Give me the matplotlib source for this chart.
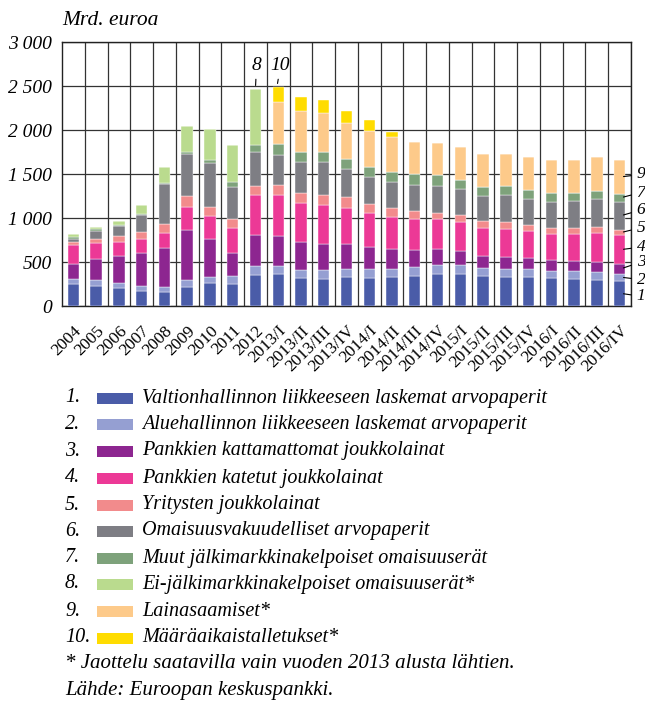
import numpy as np
import matplotlib
matplotlib.use("Agg")
from matplotlib import pyplot as plt
from matplotlib.patches import Rectangle

plt.rcParams['font.family'] = ['Liberation Serif', 'DejaVu Serif']

categories = ['2004', '2005', '2006', '2007', '2008', '2009', '2010', '2011', '2012',
              '2013/I', '2013/II', '2013/III', '2013/IV',
              '2014/I', '2014/II', '2014/III', '2014/IV',
              '2015/I', '2015/II', '2015/III', '2015/IV',
              '2016/I', '2016/II', '2016/III', '2016/IV']

# Mrd. euroa, per component
valtio = [254, 231, 209, 174, 156, 220, 262, 254, 357, 360, 315, 311, 330,
          322, 326, 341, 368, 368, 341, 334, 334, 319, 311, 300, 288]
alue = [57, 69, 57, 57, 60, 76, 68, 84, 102, 91, 95, 99, 95,
        95, 95, 99, 102, 98, 91, 91, 83, 83, 83, 87, 80]
kattamattomat = [167, 231, 299, 368, 448, 565, 436, 269, 353, 342, 314, 299, 284,
                 258, 231, 197, 182, 163, 141, 136, 129, 118, 114, 117, 110]
katetut = [216, 182, 167, 167, 170, 269, 262, 284, 451, 474, 448, 436, 402,
           383, 360, 353, 334, 323, 318, 315, 311, 303, 315, 326, 326]
yritys = [30, 49, 65, 76, 99, 118, 99, 99, 99, 110, 118, 118, 125,
          106, 103, 91, 76, 79, 72, 76, 68, 64, 64, 65, 61]
omaisuusvak = [42, 91, 110, 193, 455, 478, 496, 360, 383, 337, 345, 372, 322,
               307, 299, 299, 307, 300, 292, 311, 296, 300, 311, 326, 322]
muut = [23, 19, 18, 8, 8, 19, 31, 57, 83, 129, 121, 121, 114,
        114, 114, 122, 121, 102, 103, 102, 99, 102, 91, 91, 87]
ei_jalki = [30, 31, 38, 106, 189, 296, 360, 421, 637, 0, 0, 0, 0,
            0, 0, 0, 0, 0, 0, 0, 0, 0, 0, 0, 0]
lainat = [0, 0, 0, 0, 0, 0, 0, 0, 0, 478, 463, 433, 406,
          402, 391, 360, 364, 372, 375, 368, 371, 372, 372, 379, 387]
talletukset = [0, 0, 0, 0, 0, 0, 0, 0, 0, 167, 155, 147, 137,
               129, 64, 0, 0, 0, 0, 0, 0, 0, 0, 0, 0]

series = [valtio, alue, kattamattomat, katetut, yritys, omaisuusvak,
          muut, ei_jalki, lainat, talletukset]
names = ['Valtionhallinnon liikkeeseen laskemat arvopaperit',
         'Aluehallinnon liikkeeseen laskemat arvopaperit',
         'Pankkien kattamattomat joukkolainat',
         'Pankkien katetut joukkolainat',
         'Yritysten joukkolainat',
         'Omaisuusvakuudelliset arvopaperit',
         'Muut jälkimarkkinakelpoiset omaisuuserät',
         'Ei-jälkimarkkinakelpoiset omaisuuserät*',
         'Lainasaamiset*',
         'Määräaikaistalletukset*']
colors = ['#4a5ca8', '#959fd2', '#8d2690', '#ec3996', '#f28b8c',
          '#7e7e84', '#7ea27b', '#badb8e', '#fdca8a', '#ffdc00']

fig = plt.figure(figsize=(6.45, 7.04), dpi=100)
ax = fig.add_axes([0.0961, 0.5653, 0.8822, 0.375])

x = np.arange(len(categories))
bottom = np.zeros(len(categories))
for vals, col in zip(series, colors):
    vals = np.array(vals, dtype=float)
    ax.bar(x, vals, width=0.5, bottom=bottom, color=col, edgecolor='white',
           linewidth=0.3, zorder=3)
    bottom += vals

ax.set_xlim(-0.5, len(categories) - 0.5)
ax.set_ylim(0, 3000)
ax.set_yticks(np.arange(0, 3001, 500))
ax.set_yticklabels(['0', '500', '1 000', '1 500', '2 000', '2 500', '3 000'],
                   fontsize=14, style='italic')
ax.set_xticks(x)
ax.set_xticklabels(categories, rotation=45, ha='right', rotation_mode='anchor',
                   fontsize=12.5)
ax.set_xticks(x + 0.5, minor=True)
ax.tick_params(axis='both', which='both', length=0)
ax.tick_params(axis='x', pad=12)
ax.tick_params(axis='y', pad=7)
ax.grid(axis='y', color='#333333', linewidth=0.9, zorder=0)
ax.grid(axis='x', which='minor', color='#333333', linewidth=0.9, zorder=0)
ax.grid(axis='x', which='major', visible=False)
for s in ax.spines.values():
    s.set_linewidth(1.0)
    s.set_color('#222222')

fig.text(0.097, 0.971, 'Mrd. euroa', fontsize=15.5, style='italic', va='center')

# callouts for series 8 and 10
arrow = dict(arrowstyle='-', color='black', lw=0.8)
tops = bottom
ax.annotate('8', xy=(8, tops[8] + 10), xytext=(8.05, 2640), fontsize=14,
            style='italic', ha='center', va='bottom', arrowprops=arrow)
ax.annotate('10', xy=(8.95, tops[9] + 10), xytext=(9.1, 2640), fontsize=14,
            style='italic', ha='center', va='bottom', arrowprops=arrow)

# right-side labels for last bar
last = len(categories) - 1
cum = np.cumsum([s[last] for s in series])
starts = np.concatenate([[0], cum[:-1]])
label_y = {0: 110, 1: 300, 2: 500, 3: 670, 4: 890, 5: 1092, 6: 1290, 8: 1495}
for i, ly in label_y.items():
    mid = (starts[i] + cum[i]) / 2
    ax.annotate(str(i + 1), xy=(last + 0.05, mid), xytext=(last + 0.75, ly),
                fontsize=12.5, style='italic', ha='left', va='center',
                arrowprops=arrow, annotation_clip=False)

# legend
row_y = [398, 425, 451, 478, 505, 531, 558, 584, 611, 638]
W, H = 645.0, 704.0
for i, (name, col) in enumerate(zip(names, colors)):
    yy = 1 - row_y[i] / H
    fig.text(65 / W, yy, f'{i + 1}.', fontsize=14.5, style='italic', va='center')
    fig.patches.append(Rectangle((97 / W, yy - 5.5 / H), 36 / W, 11 / H,
                                 transform=fig.transFigure, facecolor=col,
                                 edgecolor='none'))
    fig.text(142 / W, yy, name, fontsize=14.5, style='italic', va='center')
fig.text(65 / W, 1 - 664 / H, '* Jaottelu saatavilla vain vuoden 2013 alusta lähtien.',
         fontsize=15, style='italic', va='center')
fig.text(65 / W, 1 - 691 / H, 'Lähde: Euroopan keskuspankki.',
         fontsize=15, style='italic', va='center')

fig.savefig('out.png', dpi=100)
